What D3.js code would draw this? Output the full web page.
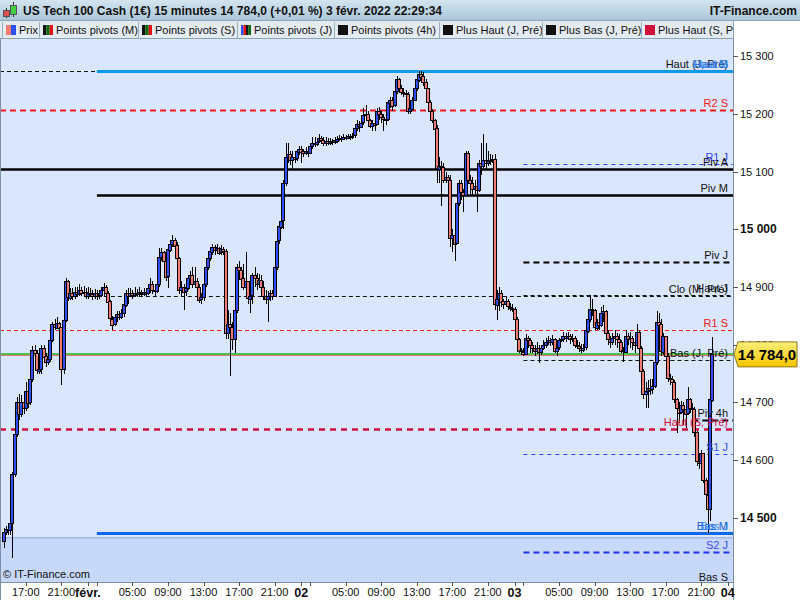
<!DOCTYPE html>
<html>
<head>
<meta charset="utf-8">
<script src="https://cdn.jsdelivr.net/npm/d3@7"></script>
<style>
  body { margin: 0; background: #fff; }
  svg { display: block; font-family: "Liberation Sans", Arial, sans-serif; }
</style>
</head>
<body>
<svg></svg>
<script>
const width = 800;
const height = 600;
const plotRight = 733;
const plotTop = 39;
const plotBottom = 582;

// 15 minute candles, first one at 31 jan 14:30, open = previous close
const startTime = new Date(2022, 0, 31, 14, 30);
const firstOpen = 14460;
const closes = [
  14475,14480,14478,14490,14575,14645,14700,14680,14700,14690,14720,14700,14740,14790,14785,14755,
  14758,14795,14780,14770,14775,14808,14835,14830,14838,14830,14757,14842,14910,14882,14890,14885,
  14892,14888,14895,14890,14892,14885,14890,14888,14885,14890,14885,14887,14895,14900,14890,14875,
  14845,14835,14848,14853,14848,14855,14870,14890,14885,14890,14886,14890,14888,14891,14889,14892,
  14890,14898,14905,14895,14893,14905,14952,14960,14945,14918,14965,14975,14982,14972,14950,14895,
  14900,14892,14898,14915,14920,14905,14910,14900,14878,14882,14905,14935,14950,14962,14970,14965,
  14968,14960,14966,14962,14820,14835,14830,14810,14860,14935,14930,14915,14900,14910,14880,14885,
  14920,14915,14905,14912,14900,14885,14880,14885,14890,14885,14935,14980,15005,15015,15080,15125,
  15130,15120,15125,15122,15135,15140,15135,15132,15135,15133,15145,15150,15148,15152,15158,15155,
  15150,15153,15150,15153,15151,15154,15157,15158,15156,15160,15158,15161,15160,15162,15175,15182,
  15178,15185,15198,15200,15190,15180,15185,15182,15205,15200,15195,15192,15190,15220,15225,15215,
  15240,15260,15245,15238,15236,15234,15205,15210,15225,15245,15260,15270,15265,15255,15245,15220,
  15205,15190,15175,15105,15110,15108,15085,15090,15085,14985,14990,14975,15045,15080,15065,15060,
  15132,15085,15080,15070,15075,15068,15115,15110,15120,15115,15118,15120,15122,14870,14880,14890,
  14875,14870,14875,14866,14864,14862,14845,14810,14790,14788,14785,14812,14808,14800,14795,14790,
  14795,14788,14795,14800,14805,14808,14805,14810,14790,14795,14808,14810,14815,14812,14815,14810,
  14812,14800,14798,14795,14792,14795,14825,14845,14862,14860,14830,14840,14835,14855,14858,14820,
  14810,14805,14812,14815,14810,14805,14790,14788,14815,14810,14812,14805,14800,14822,14795,14755,
  14715,14720,14725,14722,14728,14770,14840,14835,14788,14815,14780,14742,14740,14735,14705,14690,
  14682,14695,14688,14680,14705,14690,14688,14648,14598,14595,14612,14565,14540,14515,14705,14784
];
const highs = [
  14482,14485,14485,14495,14580,14650,14710,14715,14712,14720,14735,14735,14745,14797,14800,14790,
  14765,14800,14800,14785,14785,14812,14840,14845,14848,14840,14830,14845,14915,14912,14898,14898,
  14900,14900,14905,14900,14902,14898,14900,14898,14895,14897,14895,14895,14900,14907,14903,14893,
  14878,14850,14852,14858,14858,14862,14875,14895,14898,14898,14895,14900,14897,14900,14895,14898,
  14898,14905,14915,14910,14905,14910,14968,14968,14962,14950,14970,14982,14990,14985,14978,14952,
  14910,14905,14905,14920,14927,14935,14935,14915,14905,14890,14910,14940,14955,14968,14975,14972,
  14975,14970,14972,14970,14965,14860,14855,14840,14865,14940,14945,14935,14940,14960,14910,14895,
  14925,14935,14925,14922,14920,14910,14895,14893,14895,14895,14940,14985,15010,15025,15085,15150,
  15150,15135,15135,15130,15140,15145,15145,15140,15142,15140,15150,15160,15160,15158,15165,15162,
  15160,15160,15158,15158,15157,15160,15162,15163,15162,15165,15164,15166,15165,15167,15178,15190,
  15188,15192,15210,15216,15205,15192,15190,15190,15210,15212,15205,15200,15198,15225,15230,15230,
  15245,15265,15262,15250,15245,15242,15238,15220,15230,15250,15265,15275,15275,15272,15260,15245,
  15225,15208,15192,15180,15125,15118,15115,15100,15095,15095,15000,15005,15050,15085,15085,15070,
  15135,15135,15095,15090,15085,15080,15120,15150,15165,15150,15135,15130,15128,15130,14895,14900,
  14895,14880,14883,14880,14872,14870,14865,14848,14812,14795,14795,14818,14815,14812,14805,14800,
  14805,14800,14800,14808,14812,14815,14812,14816,14812,14800,14812,14815,14822,14820,14822,14818,
  14818,14815,14808,14805,14802,14802,14830,14850,14886,14880,14862,14845,14845,14865,14868,14860,
  14825,14815,14820,14825,14820,14818,14808,14796,14825,14820,14822,14815,14815,14835,14825,14798,
  14758,14735,14738,14740,14740,14775,14858,14855,14845,14820,14815,14785,14750,14745,14738,14708,
  14700,14703,14700,14695,14726,14708,14698,14692,14650,14605,14618,14612,14568,14545,14710,14813
];
const lows = [
  14448,14470,14470,14470,14430,14570,14640,14670,14675,14680,14685,14690,14695,14735,14780,14750,
  14750,14750,14770,14762,14765,14770,14805,14825,14828,14822,14730,14750,14840,14875,14878,14878,
  14880,14882,14885,14885,14885,14880,14880,14882,14878,14880,14878,14880,14882,14885,14885,14870,
  14840,14825,14832,14840,14842,14845,14848,14865,14870,14882,14880,14883,14882,14884,14882,14885,
  14884,14886,14890,14888,14885,14890,14900,14945,14940,14910,14898,14960,14970,14965,14945,14888,
  14885,14860,14885,14895,14905,14898,14900,14890,14872,14870,14875,14900,14930,14945,14955,14955,
  14958,14955,14955,14955,14810,14810,14745,14790,14785,14855,14920,14905,14895,14890,14870,14855,
  14870,14900,14895,14898,14890,14878,14870,14840,14875,14878,14882,14930,14975,15000,15000,15075,
  15115,15112,15105,15115,15118,15128,15115,15125,15128,15126,15130,15140,15142,15145,15150,15148,
  15145,15145,15146,15147,15147,15148,15150,15153,15152,15155,15154,15156,15155,15156,15158,15170,
  15168,15175,15180,15190,15185,15175,15170,15170,15180,15190,15185,15170,15180,15188,15210,15205,
  15212,15235,15240,15232,15230,15228,15200,15200,15205,15222,15240,15255,15255,15248,15240,15215,
  15200,15185,15168,15080,15080,15040,15080,15080,15040,14970,14960,14945,14975,15040,15050,15030,
  15060,15080,15060,15060,15062,15030,15065,15095,15105,15105,15110,15112,15115,14860,14842,14858,
  14865,14862,14865,14860,14858,14856,14840,14805,14785,14783,14780,14782,14795,14785,14785,14780,
  14783,14768,14782,14790,14795,14800,14798,14800,14785,14780,14790,14805,14805,14805,14808,14802,
  14805,14795,14792,14788,14785,14788,14790,14820,14840,14850,14825,14825,14825,14830,14840,14815,
  14800,14795,14800,14800,14795,14795,14785,14770,14785,14800,14795,14790,14785,14795,14790,14750,
  14705,14690,14690,14712,14715,14725,14765,14815,14780,14782,14775,14735,14730,14728,14698,14646,
  14665,14680,14660,14655,14678,14682,14670,14640,14590,14585,14592,14560,14535,14474,14495,14700
];

// pivot and high / low levels shown at the right
const levelLabels = ["Haut (J, Pré)", "Haut M", "Haut S", "R2 S", "R1 J", "Piv A", "Piv M", "Piv J",
  "Clo (M, Pré)", "Haut J", "R1 S", "Bas (J, Pré)", "Piv 4h", "Haut (S, Pré)", "S1 J",
  "Bas J", "Bas M", "S2 J", "Bas S"];
const levelValues = [15275, 15275, 15275, 15206, 15113, 15105, 15060, 14944,
  14885, 14886, 14825, 14773, 14669, 14653, 14610,
  14474, 14474, 14440, 14385];
const levelStarts = [
  new Date(2022, 0, 31, 14, 0), new Date(2022, 1, 1, 1), new Date(2022, 1, 1, 1), new Date(2022, 0, 31, 14, 0),
  new Date(2022, 1, 3, 1), new Date(2022, 0, 31, 14, 0), new Date(2022, 1, 1, 1), new Date(2022, 1, 3, 1),
  new Date(2022, 1, 1, 1), new Date(2022, 1, 3, 1), new Date(2022, 0, 31, 14, 0), new Date(2022, 1, 3, 1),
  new Date(2022, 1, 3, 20), new Date(2022, 0, 31, 14, 0), new Date(2022, 1, 3, 1),
  new Date(2022, 1, 3, 1), new Date(2022, 1, 1, 1), new Date(2022, 1, 3, 1), new Date(2022, 0, 31, 14, 0)
];

const lastPrice = 14784;
const bandTop = 14466;
const priceTicks = [14500, 14600, 14700, 14800, 14900, 15000, 15100, 15200, 15300];
const hourTicks = [];
for (let d = 0; d < 4; d++) {
  [1, 5, 9, 13, 17, 21].forEach(h => hourTicks.push(new Date(2022, 0, 31 + d, h)));
}
const dayTicks = [new Date(2022, 1, 1), new Date(2022, 1, 2), new Date(2022, 1, 3), new Date(2022, 1, 4)];
const dayNames = ["févr.", "02", "03", "04"];

const legendNames = ["Prix", "Points pivots (M)", "Points pivots (S)", "Points pivots (J)",
  "Points pivots (4h)", "Plus Haut (J, Pré)", "Plus Bas (J, Pré)", "Plus Haut (S, Pré)"];
const legendColors = [
  ["#f07b72", "#2a4cf0"], ["#111", "#0b6b0b", "#e01010"], ["#111", "#0b6b0b", "#e01010"],
  ["#2a4cf0", "#e01010", "#111", "#0b6b0b"], ["#111"], ["#111"], ["#111"], ["#d0103a"]
];

const style = {
  "Haut (J, Pré)": { c: "#111", w: 1, dash: "4,3", tc: "#111" },
  "Haut M": { c: "#0f9af0", w: 3, dash: null, tc: "#1a8fee" },
  "Haut S": { c: "#0f9af0", w: 0, dash: null, tc: "#3a6fe8" },
  "R2 S": { c: "#f01818", w: 2, dash: "6,4", tc: "#f01818" },
  "R1 J": { c: "#3040ff", w: 1, dash: "4,4", tc: "#3040ff" },
  "Piv A": { c: "#000", w: 2.5, dash: null, tc: "#111" },
  "Piv M": { c: "#000", w: 2.5, dash: null, tc: "#111" },
  "Piv J": { c: "#000", w: 2, dash: "6,4", tc: "#111" },
  "Clo (M, Pré)": { c: "#111", w: 1, dash: "4,3", tc: "#111" },
  "Haut J": { c: "#111", w: 1, dash: "4,3", tc: "#111" },
  "R1 S": { c: "#f01818", w: 1, dash: "4,3", tc: "#f01818" },
  "Bas (J, Pré)": { c: "#111", w: 1, dash: "4,3", tc: "#111" },
  "Piv 4h": { c: "#000", w: 2, dash: "6,4", tc: "#111" },
  "Haut (S, Pré)": { c: "#cc0f40", w: 2.5, dash: "6,5", tc: "#cc0f40" },
  "S1 J": { c: "#3040ff", w: 1, dash: "4,4", tc: "#3a4cf0" },
  "Bas J": { c: "#3a8ff0", w: 0, dash: null, tc: "#2f8ff8" },
  "Bas M": { c: "#0f66ee", w: 3, dash: null, tc: "#1f5fe0" },
  "S2 J": { c: "#2030f0", w: 2, dash: "6,4", tc: "#3a4cf0" },
  "Bas S": { c: "#111", w: 0, dash: null, tc: "#111" }
};

const svg = d3.select('svg')
  .attr('width', width)
  .attr('height', height);

const x = d3.scaleTime()
  .domain([new Date(2022, 0, 31, 14, 6), new Date(2022, 1, 4, 0, 35)])
  .range([0, plotRight]);
const y = d3.scaleLinear()
  .domain([14500, 15000])
  .range([517.7, 229.3]);

const fr = d3.formatLocale({ decimal: ",", thousands: " ", grouping: [3], currency: ["", ""] });
const fmtTick = fr.format(",d");
const fmtPrice = fr.format(",.1f");

// backgrounds
const defs = svg.append('defs');
const tg = defs.append('linearGradient').attr('id', 'titleGrad').attr('x1', 0).attr('y1', 0).attr('x2', 0).attr('y2', 1);
tg.append('stop').attr('offset', '0%').attr('stop-color', '#d3e4ef');
tg.append('stop').attr('offset', '100%').attr('stop-color', '#a9c6d8');
const pg = defs.append('linearGradient').attr('id', 'priceGrad').attr('x1', 0).attr('y1', 0).attr('x2', 0).attr('y2', 1);
pg.append('stop').attr('offset', '0%').attr('stop-color', '#fff07a');
pg.append('stop').attr('offset', '100%').attr('stop-color', '#f5c400');
defs.append('clipPath').attr('id', 'plotClip')
  .append('rect').attr('x', 1).attr('y', plotTop).attr('width', plotRight - 1).attr('height', plotBottom - plotTop);

svg.append('rect').attr('width', width).attr('height', height).attr('fill', '#fff');
svg.append('rect').attr('x', 0).attr('y', plotTop).attr('width', plotRight).attr('height', plotBottom - plotTop)
  .attr('fill', '#dae6fd');
svg.append('rect').attr('x', 0).attr('y', y(bandTop)).attr('width', plotRight).attr('height', plotBottom - y(bandTop))
  .attr('fill', '#c7d8fa');
svg.append('line').attr('x1', 0).attr('x2', plotRight).attr('y1', y(bandTop) + 0.5).attr('y2', y(bandTop) + 0.5)
  .attr('stroke', '#8fa9e6').attr('stroke-width', 1);

const plot = svg.append('g').attr('clip-path', 'url(#plotClip)');

// level lines
const levels = levelLabels.map((name, i) => ({ name, value: levelValues[i], start: levelStarts[i] }));
plot.append('g').selectAll('line')
  .data(levels.filter(d => style[d.name].w > 0))
  .join('line')
  .attr('x1', d => Math.max(0, x(d.start)))
  .attr('x2', plotRight)
  .attr('y1', d => Math.round(y(d.value)) + 0.5)
  .attr('y2', d => Math.round(y(d.value)) + 0.5)
  .attr('stroke', d => style[d.name].c)
  .attr('stroke-width', d => style[d.name].w)
  .attr('stroke-dasharray', d => style[d.name].dash);

// last price lines
plot.append('line').attr('x1', 0).attr('x2', plotRight)
  .attr('y1', y(lastPrice) + 1.5).attr('y2', y(lastPrice) + 1.5)
  .attr('stroke', '#e06a6a').attr('stroke-width', 1);
plot.append('line').attr('x1', 0).attr('x2', plotRight)
  .attr('y1', y(lastPrice)).attr('y2', y(lastPrice))
  .attr('stroke', '#4cbf4c').attr('stroke-width', 2);

// candles
const candles = closes.map((c, i) => ({
  t: d3.timeMinute.offset(startTime, 15 * i),
  o: i === 0 ? firstOpen : closes[i - 1],
  c, h: highs[i], l: lows[i]
}));

const cg = plot.append('g').attr('shape-rendering', 'crispEdges');
const candle = cg.selectAll('g').data(candles).join('g');
candle.append('line')
  .attr('x1', d => Math.round(x(d.t)) + 0.5)
  .attr('x2', d => Math.round(x(d.t)) + 0.5)
  .attr('y1', d => y(d.h))
  .attr('y2', d => y(d.l))
  .attr('stroke', '#000');
candle.append('rect')
  .attr('x', d => Math.round(x(d.t)) - 1.5)
  .attr('width', 3)
  .attr('y', d => Math.round(y(Math.max(d.o, d.c))) + 0.5)
  .attr('height', d => Math.max(1, Math.round(Math.abs(y(d.o) - y(d.c)))))
  .attr('fill', d => d.c >= d.o ? '#2f4ff2' : '#f27c74')
  .attr('stroke', '#000')
  .attr('stroke-width', 1);

// level labels
plot.append('g').selectAll('text')
  .data(levels)
  .join('text')
  .attr('x', 728)
  .attr('y', d => y(d.value) - 3)
  .attr('text-anchor', 'end')
  .attr('font-size', 11)
  .attr('fill', d => style[d.name].tc)
  .text(d => d.name);

svg.append('text').attr('x', 3).attr('y', 578).attr('font-size', 11).attr('fill', '#111')
  .text('© IT-Finance.com');

// frame
svg.append('line').attr('x1', plotRight + 0.5).attr('x2', plotRight + 0.5).attr('y1', plotTop).attr('y2', height)
  .attr('stroke', '#7d91a6');
svg.append('line').attr('x1', 0.5).attr('x2', 0.5).attr('y1', plotTop).attr('y2', height)
  .attr('stroke', '#7d91a6');
svg.append('line').attr('x1', 0).attr('x2', plotRight).attr('y1', plotBottom + 0.5).attr('y2', plotBottom + 0.5)
  .attr('stroke', '#7d91a6');

// right axis
const ra = svg.append('g');
ra.selectAll('line').data(priceTicks).join('line')
  .attr('x1', plotRight).attr('x2', plotRight + 5)
  .attr('y1', d => Math.round(y(d)) + 0.5).attr('y2', d => Math.round(y(d)) + 0.5)
  .attr('stroke', '#555');
ra.selectAll('text').data(priceTicks).join('text')
  .attr('x', plotRight + 7)
  .attr('y', d => y(d) + 4)
  .attr('font-size', d => d % 500 === 0 ? 12 : 11)
  .attr('font-weight', d => d % 500 === 0 ? 'bold' : 'normal')
  .attr('fill', '#111')
  .text(d => fmtTick(d));

// current price box
const py = y(lastPrice);
svg.append('path')
  .attr('d', `M${plotRight + 1},${py} L${plotRight + 5},${py - 12} H797 V${py + 13} H${plotRight + 5} Z`)
  .attr('fill', 'url(#priceGrad)').attr('stroke', '#8a7a20').attr('stroke-width', 1);
svg.append('text').attr('x', 767).attr('y', py + 6)
  .attr('text-anchor', 'middle').attr('font-size', 15).attr('font-weight', 'bold').attr('fill', '#000')
  .text(fmtPrice(lastPrice));

// bottom axis
const ba = svg.append('g');
ba.selectAll('line').data(hourTicks.concat(dayTicks)).join('line')
  .attr('x1', d => Math.round(x(d)) + 0.5).attr('x2', d => Math.round(x(d)) + 0.5)
  .attr('y1', plotBottom).attr('y2', plotBottom + 4)
  .attr('stroke', '#555');
ba.selectAll('text.h').data(hourTicks.filter(d => d.getHours() !== 1 && x(d) > 10 && x(d) < plotRight - 10))
  .join('text').attr('class', 'h')
  .attr('x', d => x(d)).attr('y', 596)
  .attr('text-anchor', 'middle').attr('font-size', 11).attr('fill', '#111')
  .text(d => d3.timeFormat('%H:%M')(d));
ba.selectAll('text.d').data(dayTicks).join('text').attr('class', 'd')
  .attr('x', d => x(d)).attr('y', 597)
  .attr('text-anchor', 'middle').attr('font-size', 12.5).attr('font-weight', 'bold').attr('fill', '#111')
  .text((d, i) => dayNames[i]);

// title bar
svg.append('rect').attr('x', 0).attr('y', 0).attr('width', width).attr('height', 21)
  .attr('fill', 'url(#titleGrad)');
svg.append('line').attr('x1', 0).attr('x2', width).attr('y1', 20.5).attr('y2', 20.5).attr('stroke', '#8ea4b6');
const icon = svg.append('g').attr('shape-rendering', 'crispEdges');
icon.append('line').attr('x1', 6.5).attr('x2', 6.5).attr('y1', 8).attr('y2', 18).attr('stroke', '#333');
icon.append('rect').attr('x', 3.5).attr('y', 10.5).attr('width', 6).attr('height', 6).attr('fill', '#e05050').attr('stroke', '#555');
icon.append('line').attr('x1', 13.5).attr('x2', 13.5).attr('y1', 2).attr('y2', 17).attr('stroke', '#333');
icon.append('rect').attr('x', 10.5).attr('y', 5.5).attr('width', 6).attr('height', 9).attr('fill', '#40d040').attr('stroke', '#555');
svg.append('text').attr('x', 23).attr('y', 15).attr('font-size', 12).attr('font-weight', 'bold').attr('fill', '#111')
  .text('US Tech 100 Cash (1€) 15 minutes 14 784,0 (+0,01 %) 3 févr. 2022 22:29:34');
svg.append('text').attr('x', 797).attr('y', 15).attr('text-anchor', 'end').attr('font-size', 12).attr('font-weight', 'bold').attr('fill', '#111')
  .text('IT-Finance.com');

// legend bar
svg.append('rect').attr('x', 0).attr('y', 21).attr('width', plotRight).attr('height', 18).attr('fill', '#e3eaf0');
svg.append('line').attr('x1', 0).attr('x2', plotRight).attr('y1', 38.5).attr('y2', 38.5).attr('stroke', '#8ea4b6');
const legendX = [2, 39, 138, 237, 334, 439, 542, 641];
const lg = svg.append('g');
legendNames.forEach((name, i) => {
  const gx = legendX[i];
  const item = lg.append('g');
  item.append('line').attr('x1', gx + 0.5).attr('x2', gx + 0.5).attr('y1', 22).attr('y2', 38).attr('stroke', '#9fb0c0');
  const cols = legendColors[i];
  const sw = 10 / cols.length;
  cols.forEach((c, k) => {
    item.append('rect').attr('x', gx + 4 + k * sw).attr('y', 25).attr('width', sw).attr('height', 10).attr('fill', c);
  });
  item.append('text').attr('x', gx + 17).attr('y', 34).attr('font-size', 11).attr('fill', '#111').text(name);
});
svg.append('rect').attr('x', plotRight).attr('y', 21).attr('width', width - plotRight).attr('height', 18).attr('fill', '#fff');
svg.append('line').attr('x1', plotRight + 0.5).attr('x2', plotRight + 0.5).attr('y1', 21).attr('y2', 39).attr('stroke', '#8ea4b6');
</script>
</body>
</html>
